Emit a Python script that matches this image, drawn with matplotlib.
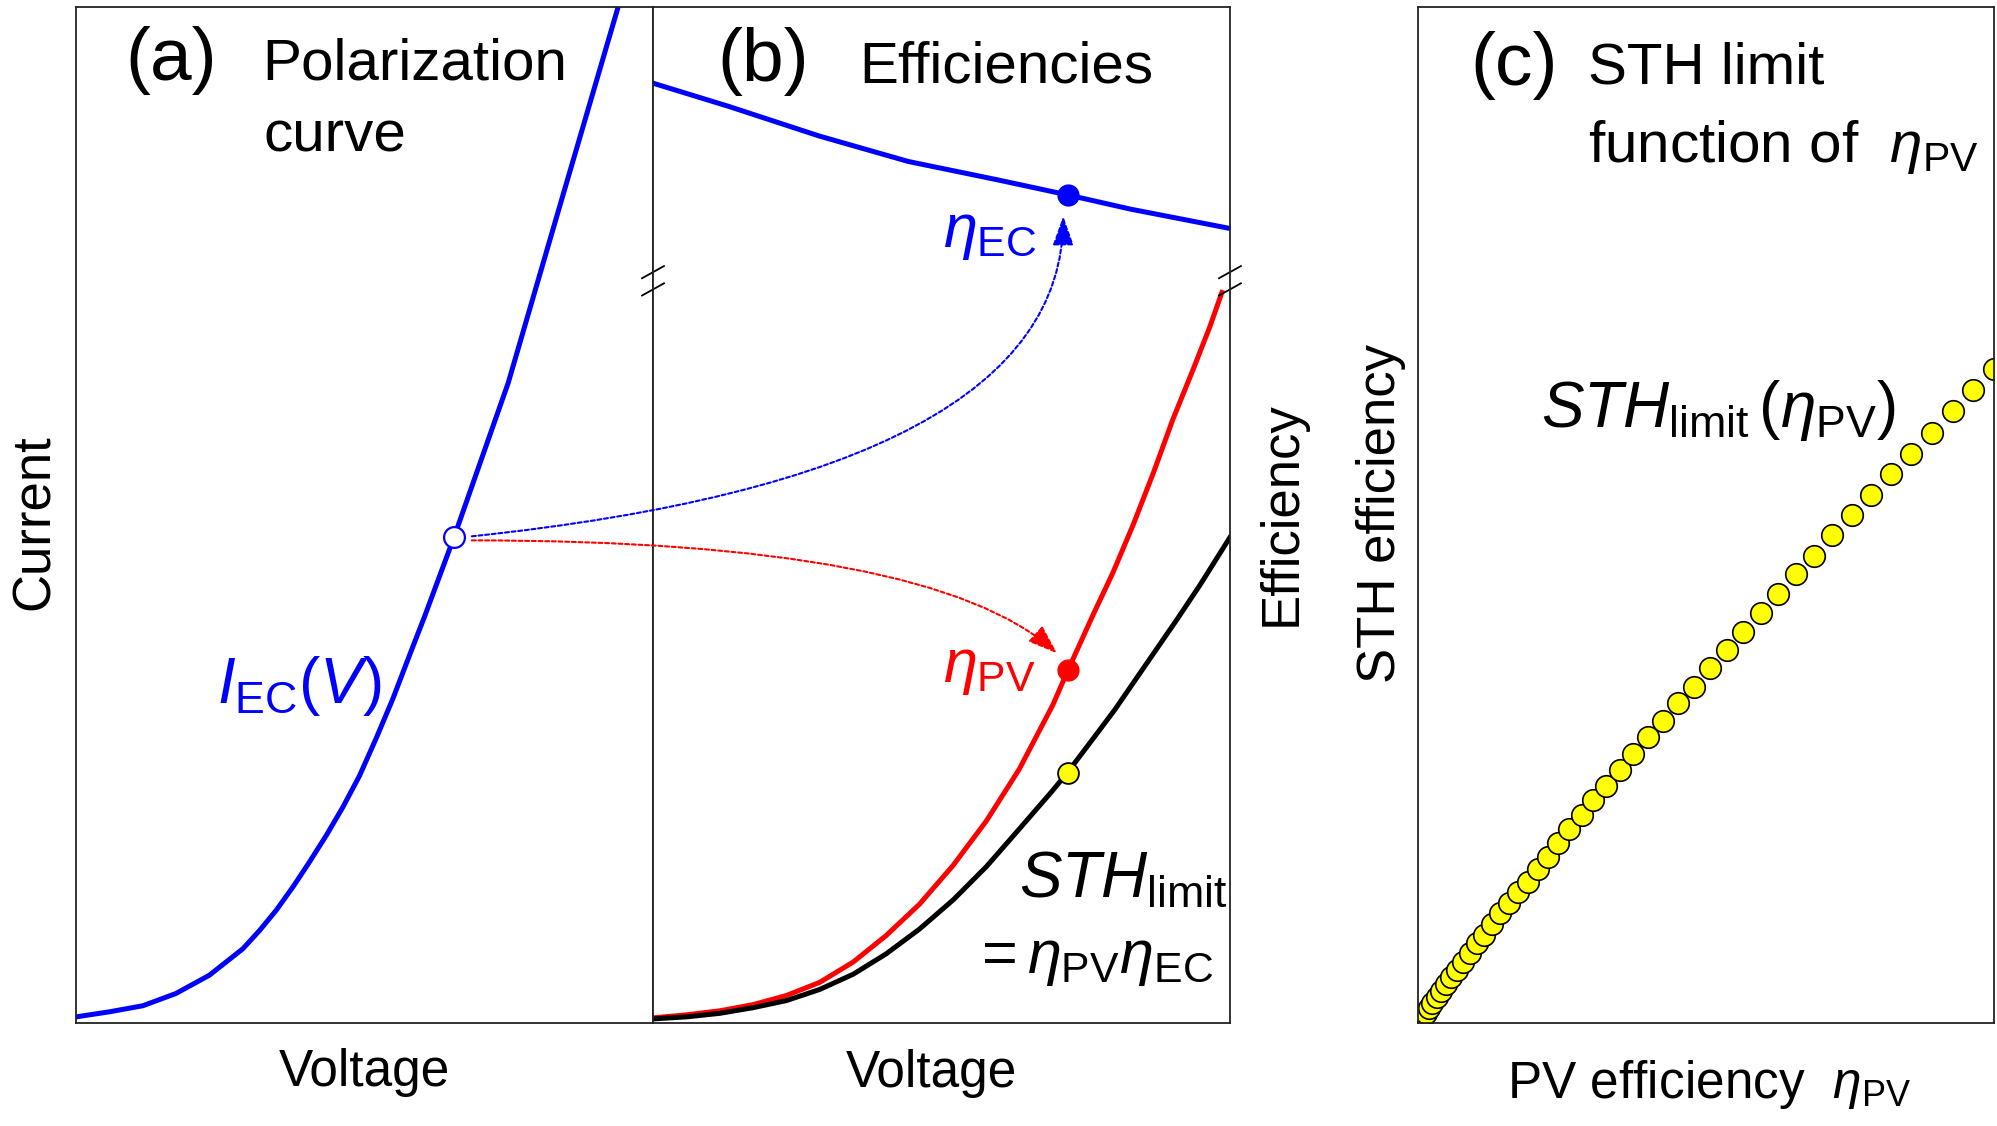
import numpy as np
import matplotlib.pyplot as plt
from matplotlib.patches import ConnectionPatch

plt.rcParams['font.family'] = ['Liberation Sans', 'DejaVu Sans']
plt.rcParams['mathtext.fontset'] = 'custom'
plt.rcParams['mathtext.rm'] = 'Liberation Sans'
plt.rcParams['mathtext.it'] = 'Liberation Sans:italic'
plt.rcParams['mathtext.bf'] = 'Liberation Sans:bold'

# (a) polarization curve (arbitrary units)
v_ec = [0.000, 0.058, 0.116, 0.173, 0.231, 0.289, 0.318, 0.347, 0.376, 0.404,
        0.433, 0.462, 0.491, 0.520, 0.549, 0.578, 0.604, 0.655, 0.749, 0.844, 0.939]
i_ec = [0.006, 0.011, 0.017, 0.029, 0.047, 0.073, 0.091, 0.111, 0.134, 0.158,
        0.184, 0.212, 0.243, 0.280, 0.319, 0.362, 0.400, 0.478, 0.630, 0.815, 0.999]
op_v, op_i = 0.655, 0.478

# (b) efficiencies vs voltage
v_ecf = [0.000, 0.132, 0.288, 0.442, 0.596, 0.719, 0.828, 1.000]
eta_ec = [0.925, 0.902, 0.873, 0.848, 0.830, 0.815, 0.801, 0.782]

v_pv = [0.000, 0.058, 0.116, 0.173, 0.231, 0.289, 0.347, 0.404, 0.462, 0.520,
        0.578, 0.635, 0.693, 0.719, 0.763, 0.797, 0.832, 0.867, 0.901, 0.936,
        0.965, 0.986]
eta_pv = [0.005, 0.008, 0.012, 0.018, 0.027, 0.040, 0.060, 0.086, 0.117, 0.155,
          0.199, 0.250, 0.313, 0.347, 0.402, 0.443, 0.490, 0.541, 0.594, 0.643,
          0.685, 0.719]

v_sth = [0.000, 0.058, 0.116, 0.173, 0.231, 0.289, 0.347, 0.404, 0.462, 0.520,
         0.578, 0.635, 0.693, 0.719, 0.763, 0.800, 0.908, 0.948, 1.000]
sth = [0.004, 0.006, 0.0095, 0.015, 0.022, 0.033, 0.048, 0.068, 0.0925, 0.121,
       0.154, 0.191, 0.229, 0.247, 0.280, 0.308, 0.397, 0.431, 0.478]

op_vb = 0.719
op_ec, op_pv, op_sth = 0.815, 0.347, 0.246

# (c) STH limit as function of PV efficiency
c_pv = [0.003, 0.005, 0.007, 0.009, 0.014, 0.019, 0.024, 0.033, 0.040, 0.049,
        0.057, 0.068, 0.078, 0.090, 0.102, 0.115, 0.128, 0.142, 0.158, 0.174,
        0.191, 0.208, 0.226, 0.243, 0.262, 0.285, 0.304, 0.326, 0.351, 0.373,
        0.399, 0.425, 0.451, 0.479, 0.507, 0.536, 0.564, 0.595, 0.625, 0.656,
        0.688, 0.719, 0.753, 0.786, 0.821, 0.856, 0.892, 0.929, 0.964, 1.000]
c_sth = [0.002, 0.003, 0.004, 0.006, 0.010, 0.015, 0.020, 0.026, 0.031, 0.038,
         0.045, 0.052, 0.060, 0.069, 0.079, 0.087, 0.097, 0.108, 0.118, 0.129,
         0.139, 0.152, 0.163, 0.177, 0.191, 0.205, 0.219, 0.233, 0.249, 0.265,
         0.281, 0.297, 0.315, 0.331, 0.349, 0.367, 0.385, 0.404, 0.422, 0.442,
         0.460, 0.480, 0.500, 0.520, 0.540, 0.560, 0.581, 0.602, 0.623, 0.644]

BLUE, RED, YEL = '#0000ff', '#ff0000', '#ffff00'
LW = 3.6

fig = plt.figure(figsize=(19.97, 11.26), dpi=100)
bot, hgt = 0.0915, 0.9023
ax_a = fig.add_axes([0.0381, bot, 0.2889, hgt])
ax_b = fig.add_axes([0.3270, bot, 0.2889, hgt])
ax_c = fig.add_axes([0.7101, bot, 0.2884, hgt])

for ax in (ax_a, ax_b, ax_c):
    ax.set_xlim(0, 1)
    ax.set_ylim(0, 1)
    ax.set_xticks([])
    ax.set_yticks([])
    for s in ax.spines.values():
        s.set_linewidth(1.3)
        s.set_color('#222222')

# ---- panel (a)
ax_a.plot(v_ec, i_ec, color=BLUE, lw=LW, solid_joinstyle='round')
ax_a.plot([op_v], [op_i], 'o', ms=15, mfc='white', mec=BLUE, mew=1.6, zorder=5)
ax_a.text(0.085, 0.928, '(a)', fontsize=54, transform=ax_a.transAxes)
ax_a.text(0.322, 0.929, 'Polarization', fontsize=42, transform=ax_a.transAxes)
ax_a.text(0.324, 0.858, 'curve', fontsize=42, transform=ax_a.transAxes)
ax_a.text(0.244, 0.315, r'$I_{\mathrm{EC}}(V)$', fontsize=46, color=BLUE,
          transform=ax_a.transAxes)
ax_a.text(-0.071, 0.493, 'Current', fontsize=38, rotation=90, ha='center',
          va='center', transform=ax_a.transAxes)
ax_a.text(0.5, -0.062, 'Voltage', fontsize=37, ha='center', va='baseline',
          transform=ax_a.transAxes)

# ---- panel (b)
ax_b.plot(v_ecf, eta_ec, color=BLUE, lw=LW, solid_joinstyle='round')
ax_b.plot(v_pv, eta_pv, color=RED, lw=LW, solid_joinstyle='round')
ax_b.plot(v_sth, sth, color='black', lw=LW, solid_joinstyle='round')
ax_b.plot([op_vb], [op_ec], 'o', ms=15, color=BLUE, zorder=5)
ax_b.plot([op_vb], [op_pv], 'o', ms=15, color=RED, zorder=5)
ax_b.plot([op_vb], [op_sth], 'o', ms=15, mfc=YEL, mec='black', mew=1.3, zorder=5)

# axis break marks on both sides
for xb in (0.0, 1.0):
    for yb in (0.739, 0.722):
        ax_b.plot([xb - 0.019, xb + 0.019], [yb - 0.006, yb + 0.006],
                  color='black', lw=1.3, transform=ax_b.transAxes, clip_on=False)

ax_b.text(0.112, 0.927, '(b)', fontsize=54, transform=ax_b.transAxes)
ax_b.text(0.357, 0.926, 'Efficiencies', fontsize=42, transform=ax_b.transAxes)
ax_b.text(0.503, 0.764, r'$\eta_{\mathrm{EC}}$', fontsize=44, color=BLUE,
          transform=ax_b.transAxes)
ax_b.text(0.503, 0.336, r'$\eta_{\mathrm{PV}}$', fontsize=44, color=RED,
          transform=ax_b.transAxes)
ax_b.text(0.634, 0.124, r'$STH_{\mathrm{limit}}$', fontsize=46,
          transform=ax_b.transAxes)
ax_b.text(0.552, 0.049, r'$=\eta_{\mathrm{PV}}\eta_{\mathrm{EC}}$', fontsize=44,
          transform=ax_b.transAxes)
ax_b.text(0.482, -0.063, 'Voltage', fontsize=37, ha='center', va='baseline',
          transform=ax_b.transAxes)
ax_b.text(1.090, 0.501, 'Efficiency', fontsize=38, rotation=90, ha='center',
          va='center', transform=ax_b.transAxes)

# dotted arrows from the operating point
arrow_kw = dict(coordsA='axes fraction', coordsB='axes fraction',
                lw=1.5, linestyle=(0, (1.9, 1.3)), mutation_scale=10, zorder=6)
con1 = ConnectionPatch(xyA=(0.686, 0.479), axesA=ax_a, xyB=(0.711, 0.794), axesB=ax_b,
                       arrowstyle='-|>,head_length=1.8,head_width=0.65',
                       connectionstyle='angle3,angleA=6,angleB=90',
                       color=BLUE, **arrow_kw)
con2 = ConnectionPatch(xyA=(0.686, 0.475), axesA=ax_a, xyB=(0.700, 0.364), axesB=ax_b,
                       arrowstyle='-|>,head_length=1.8,head_width=0.65',
                       connectionstyle='angle3,angleA=0,angleB=-42',
                       color=RED, **arrow_kw)
fig.add_artist(con1)
fig.add_artist(con2)

# ---- panel (c)
ax_c.plot(c_pv, c_sth, 'o', ms=15.5, mfc=YEL, mec='black', mew=1.2)
ax_c.text(0.090, 0.923, '(c)', fontsize=54, transform=ax_c.transAxes)
ax_c.text(0.295, 0.925, 'STH limit', fontsize=42, transform=ax_c.transAxes)
ax_c.text(0.295, 0.847, r'function of  $\eta_{\mathrm{PV}}$', fontsize=42,
          transform=ax_c.transAxes)
ax_c.text(0.214, 0.587, r'$STH_{\mathrm{limit}}\,(\eta_{\mathrm{PV}})$', fontsize=46,
          transform=ax_c.transAxes)
ax_c.text(-0.064, 0.501, 'STH efficiency', fontsize=38, rotation=90, ha='center',
          va='center', transform=ax_c.transAxes)
ax_c.text(0.155, -0.074, r'PV efficiency  $\eta_{\mathrm{PV}}$', fontsize=37,
          va='baseline', transform=ax_c.transAxes)

fig.savefig('out.png', dpi=100)
